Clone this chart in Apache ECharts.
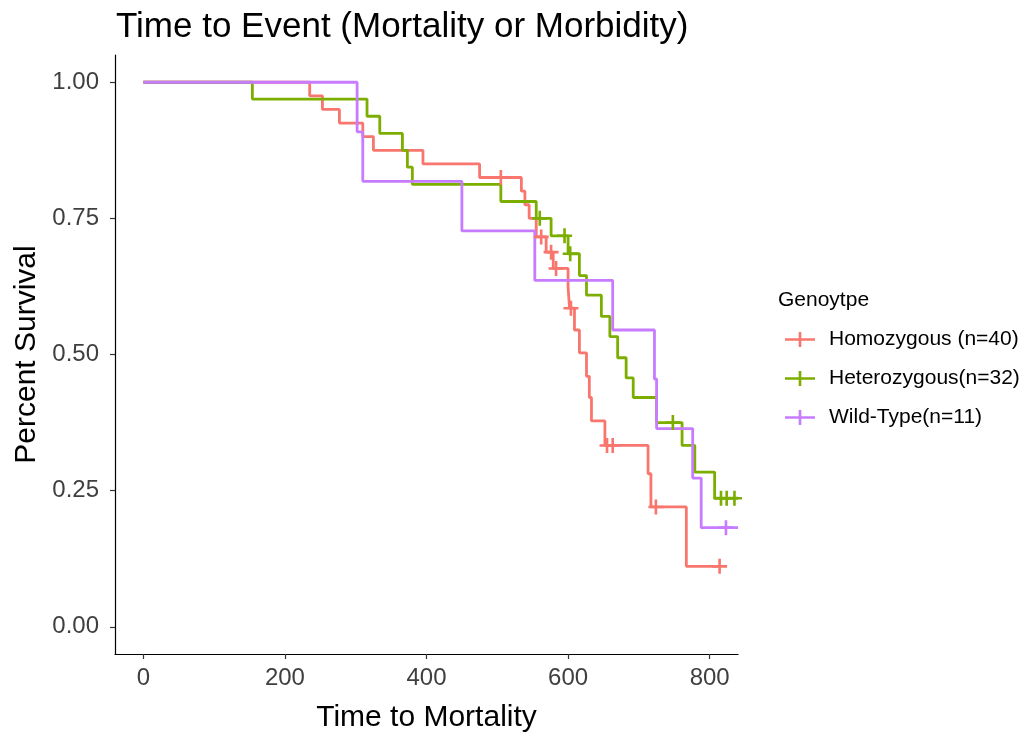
<!DOCTYPE html>
<html>
<head>
<meta charset="utf-8">
<script src="https://cdn.jsdelivr.net/npm/echarts@6/dist/echarts.min.js"></script>
<style>
  html, body { margin: 0; padding: 0; background: #ffffff; }
  #chart { width: 1032px; height: 738px; }
</style>
</head>
<body>
<div id="chart"></div>
<script>
// Kaplan-Meier survival estimates per genotype: step times and survival after each step
const groupNames = ['Homozygous (n=40)', 'Heterozygous(n=32)', 'Wild-Type(n=11)'];
const groupColors = ['#F8766D', '#7CAE00', '#C77CFF'];

const homoTimes = [0, 235, 253, 277, 310, 325, 395, 475, 534, 539, 545, 555, 569, 579, 600, 602, 609, 616, 626, 630, 633, 652, 713, 717, 767, 814];
const homoSurv  = [1, 0.975, 0.95, 0.925, 0.9, 0.875, 0.85, 0.825, 0.80, 0.775, 0.75, 0.716, 0.688, 0.658, 0.624, 0.585, 0.545, 0.503, 0.460, 0.421, 0.378, 0.333, 0.281, 0.220, 0.111, 0.111];
const homoCensorTimes = [505, 562, 576, 583, 604, 655, 663, 724, 814];
const homoCensorSurv  = [0.825, 0.716, 0.688, 0.658, 0.585, 0.333, 0.333, 0.220, 0.111];

const hetTimes = [0, 154, 316, 334, 366, 373, 380, 505, 555, 576, 600, 616, 626, 647, 659, 670, 682, 692, 725, 761, 779, 807, 840];
const hetSurv  = [1, 0.969, 0.9375, 0.906, 0.875, 0.844, 0.8125, 0.781, 0.75, 0.718, 0.685, 0.645, 0.609, 0.570, 0.533, 0.494, 0.457, 0.421, 0.375, 0.333, 0.284, 0.236, 0.236];
const hetCensorTimes = [560, 595, 603, 748, 816, 824, 835];
const hetCensorSurv  = [0.75, 0.718, 0.685, 0.375, 0.236, 0.236, 0.236];

const wildTimes = [0, 302, 310, 450, 553, 663, 722, 725, 776, 788, 840];
const wildSurv  = [1, 0.909, 0.818, 0.727, 0.636, 0.545, 0.455, 0.364, 0.273, 0.182, 0.182];
const wildCensorTimes = [823];
const wildCensorSurv  = [0.182];

const xTicks = [0, 200, 400, 600, 800];
const yTicks = [0, 0.25, 0.5, 0.75, 1];

const stepTimes = [homoTimes, hetTimes, wildTimes];
const stepSurv = [homoSurv, hetSurv, wildSurv];
const censorTimes = [homoCensorTimes, hetCensorTimes, wildCensorTimes];
const censorSurv = [homoCensorSurv, hetCensorSurv, wildCensorSurv];

const FONT = 'Liberation Sans, Arial, sans-serif';
const plusSymbol = 'path://M0,6.6h16v2.8h-16z M6.6,0h2.8v16h-2.8z';
const legendIcon = 'path://M0,6.6h32v2.8h-32z M14.6,0h2.8v16h-2.8z';

const zip = (a, b) => a.map((v, i) => [v, b[i]]);

const series = [];
groupNames.forEach((name, i) => {
  series.push({
    name: name,
    type: 'line',
    step: 'end',
    symbol: 'none',
    data: zip(stepTimes[i], stepSurv[i]),
    lineStyle: { color: groupColors[i], width: 2.8 },
    itemStyle: { color: groupColors[i] },
    z: 2 + i
  });
});
groupNames.forEach((name, i) => {
  series.push({
    name: name,
    type: 'scatter',
    symbol: plusSymbol,
    symbolSize: 15,
    data: zip(censorTimes[i], censorSurv[i]),
    itemStyle: { color: groupColors[i], opacity: 1 },
    z: 6 + i
  });
});

const chart = echarts.init(document.getElementById('chart'), null, { renderer: 'canvas' });
chart.setOption({
  animation: false,
  backgroundColor: '#ffffff',
  title: [
    {
      text: 'Time to Event (Mortality or Morbidity)',
      left: 111,
      top: 5,
      textStyle: { fontFamily: FONT, fontSize: 35, fontWeight: 'normal', color: '#000000' }
    },
    {
      text: 'Genoytpe',
      left: 773,
      top: 285,
      textStyle: { fontFamily: FONT, fontSize: 21, fontWeight: 'normal', color: '#000000' }
    }
  ],
  legend: {
    data: groupNames,
    orient: 'vertical',
    left: 780,
    top: 324,
    icon: legendIcon,
    itemWidth: 32,
    itemHeight: 15,
    itemGap: 18,
    itemStyle: { borderWidth: 0 },
    textStyle: { fontFamily: FONT, fontSize: 21, color: '#000000', lineHeight: 21, padding: [0, 0, 0, 8] }
  },
  grid: { left: 115, right: 294, top: 55, bottom: 80, containLabel: false },
  xAxis: {
    type: 'value',
    min: -40,
    max: 840,
    name: 'Time to Mortality',
    nameLocation: 'middle',
    nameGap: 49,
    nameTextStyle: { fontFamily: FONT, fontSize: 30, color: '#000000' },
    splitLine: { show: false },
    axisLine: { show: true, onZero: false, lineStyle: { color: '#000000', width: 1.2 } },
    axisTick: { show: true, customValues: xTicks, length: 5, lineStyle: { color: '#333333', width: 1.2 } },
    axisLabel: { customValues: xTicks, fontFamily: FONT, fontSize: 24, color: '#3F3F3F', margin: 12 }
  },
  yAxis: {
    type: 'value',
    min: -0.05,
    max: 1.05,
    name: 'Percent Survival',
    nameLocation: 'middle',
    nameGap: 62,
    nameTextStyle: { fontFamily: FONT, fontSize: 30, color: '#000000' },
    splitLine: { show: false },
    axisLine: { show: true, onZero: false, lineStyle: { color: '#000000', width: 1.2 } },
    axisTick: { show: true, customValues: yTicks, length: 5, lineStyle: { color: '#333333', width: 1.2 } },
    axisLabel: {
      customValues: yTicks,
      fontFamily: FONT, fontSize: 24, color: '#3F3F3F', margin: 16,
      formatter: v => v.toFixed(2)
    }
  },
  series: series
});
</script>
</body>
</html>
